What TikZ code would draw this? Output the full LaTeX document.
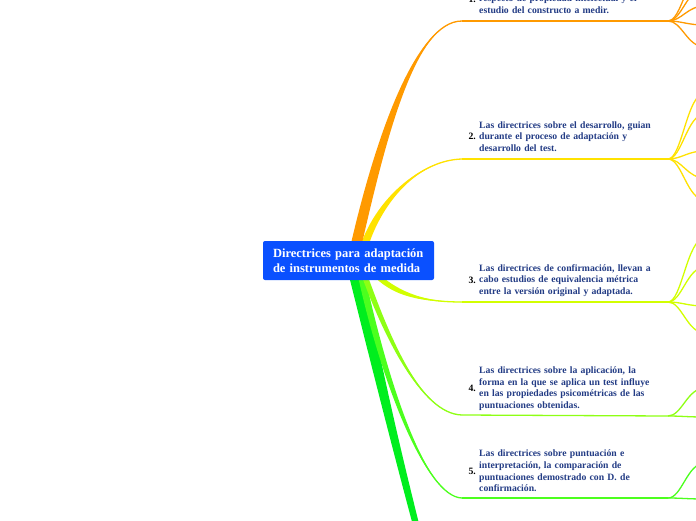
\documentclass[tikz,border=0pt]{standalone}
\usepackage{fontspec}
\setmainfont{Liberation Serif}
\usetikzlibrary{positioning, calc}

\definecolor{rootblue}{HTML}{0A50FF}
\definecolor{inkblue}{HTML}{233C85}
\definecolor{ramaA}{HTML}{FF9A00}
\definecolor{ramaB}{HTML}{FFE200}
\definecolor{ramaC}{HTML}{D2FF00}
\definecolor{ramaD}{HTML}{8EFF14}
\definecolor{ramaE}{HTML}{4CFF1E}
\definecolor{ramaF}{HTML}{00EE1E}

% tapered limb: colour, start, control 1, control 2, end, half width (as x,y)
\newcommand{\limb}[6]{%
  \fill[#1] ($(#2)-(#6)$) .. controls ($(#3)-(#6)$) and (#4) .. (#5)
    .. controls (#4) and ($(#3)+(#6)$) .. ($(#2)+(#6)$) -- cycle;
  \draw[#1, line width=1.3pt] (#2) .. controls (#3) and (#4) .. (#5);}

\tikzset{
  rootbox/.style={fill=rootblue, rounded corners=2pt, minimum width=171pt,
    minimum height=39pt, text width=151pt, align=left, text=white,
    font=\fontsize{12.5}{15}\selectfont\bfseries, inner sep=0pt},
  topic/.style={text width=190pt, align=left, text=inkblue,
    font=\fontsize{9.7}{11.6}\selectfont\bfseries, inner sep=0pt},
  num/.style={font=\fontsize{9.7}{11.6}\selectfont\bfseries, inner sep=0pt},
  twig/.style={line width=1.3pt},
}

\begin{document}
\begin{tikzpicture}[x=1pt, y=-1pt]
\useasboundingbox (0,0) rectangle (696,520);
\fill[white] (0,0) rectangle (696,520);
\clip (0,0) rectangle (696,520);

% junctions
\coordinate (h1) at (462,21);  \coordinate (j1) at (668,21);
\coordinate (h2) at (462,159); \coordinate (j2) at (668,159);
\coordinate (h3) at (462,302); \coordinate (j3) at (668,302);
\coordinate (h4) at (462,415); \coordinate (j4) at (668,416);
\coordinate (h5) at (462,498); \coordinate (j5) at (668,498);

% limbs from the centre
\fill[ramaF] (348,272) .. controls (370,360) and (395,460) .. (425,570)
  -- (431,570) .. controls (402,460) and (380,360) .. (363,272) -- cycle;
\limb{ramaE}{361,274}{384,380}{425,497}{h5}{3.5,0}
\limb{ramaD}{364,274}{385,332}{420,414}{h4}{3,0}
\limb{ramaC}{375,274}{395,293}{420,302}{h3}{0,3.5}
\limb{ramaB}{363,250}{378,200}{420,160}{h2}{4,0}
\limb{ramaA}{355,250}{380,140}{415,21}{h1}{5.5,0}

% underlines
\draw[twig, ramaA] (h1) -- (j1);
\draw[twig, ramaB] (h2) -- (j2);
\draw[twig, ramaC] (h3) -- (j3);
\draw[twig, ramaD] (h4) -- (j4);
\draw[twig, ramaE] (h5) -- (j5);

% twigs to the right edge
\foreach \ty in {-30,-12,6,25,47} {
  \coordinate (t) at (705,\ty);
  \draw[twig, ramaA] (j1) .. controls +(14,0) and +(-18,0) .. (t);}
\foreach \ty in {93,114,151,178,200} {
  \coordinate (t) at (705,\ty);
  \draw[twig, ramaB] (j2) .. controls +(14,0) and +(-18,0) .. (t);}
\foreach \ty in {238,267,306,333} {
  \coordinate (t) at (705,\ty);
  \draw[twig, ramaC] (j3) .. controls +(14,0) and +(-18,0) .. (t);}
\foreach \ty in {388,417} {
  \coordinate (t) at (705,\ty);
  \draw[twig, ramaD] (j4) .. controls +(14,0) and +(-18,0) .. (t);}
\foreach \ty in {463,499} {
  \coordinate (t) at (705,\ty);
  \draw[twig, ramaE] (j5) .. controls +(14,0) and +(-18,0) .. (t);}

% centre
\node[rootbox] (root) at (348.5,260.5)
  {Directrices para adaptación\\de instrumentos de medida};

% topics
\node[topic, anchor=north west] (l1) at (479,-5)
  {respecto de propiedad intelectual y el\\estudio del constructo a medir.};
\node[num, anchor=base east] (n1) at (476,2) {1.};

\node[topic, anchor=west] (l2) at (479,136.5)
  {Las directrices sobre el desarrollo, guian\\durante el proceso de adaptación y\\desarrollo del test.};
\node[num, left=3pt of l2] (n2) {2.};

\node[topic, anchor=west] (l3) at (479,280.5)
  {Las directrices de confirmación, llevan a\\cabo estudios de equivalencia métrica\\entre la versión original y adaptada.};
\node[num, left=3pt of l3] (n3) {3.};

\node[topic, anchor=west] (l4) at (479,388.5)
  {Las directrices sobre la aplicación, la\\forma en la que se aplica un test influye\\en las propiedades psicométricas de las\\puntuaciones obtenidas.};
\node[num, left=3pt of l4] (n4) {4.};

\node[topic, anchor=west] (l5) at (479,471)
  {Las directrices sobre puntuación e\\interpretación, la comparación de\\puntuaciones demostrado con D. de\\confirmación.};
\node[num, left=3pt of l5] (n5) {5.};

\end{tikzpicture}
\end{document}
